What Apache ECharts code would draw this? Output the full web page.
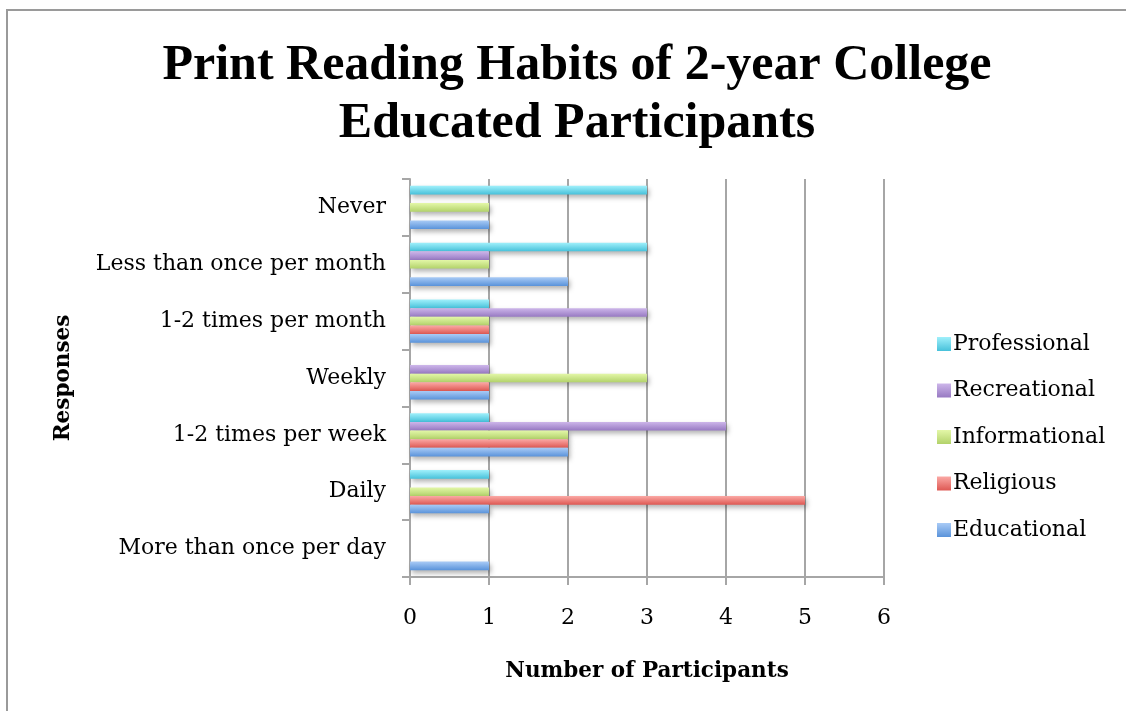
<!DOCTYPE html>
<html><head><meta charset="utf-8">
<script src="https://cdn.jsdelivr.net/npm/echarts@6/dist/echarts.min.js"></script>
<style>html,body{margin:0;padding:0;background:#fff}#c{width:1126px;height:711px}</style>
</head><body><div id="c"></div>
<script>
const categories = ['More than once per day','Daily','1-2 times per week','Weekly','1-2 times per month','Less than once per month','Never'];
const educational   = [1,1,2,1,1,2,1];
const religious     = [0,5,2,1,1,0,0];
const informational = [0,1,2,3,1,1,1];
const recreational  = [0,0,4,1,3,1,0];
const professional  = [0,1,1,0,1,3,3];
const xTicks = [0,1,2,3,4,5,6];

const TFONT = '"Liberation Serif", serif';
const FONT = '"DejaVu Serif", serif';
function grad(top, bottom){
  return {type:'linear',x:0,y:0,x2:0,y2:1,colorStops:[{offset:0,color:top},{offset:1,color:bottom}]};
}
const colors = {
  Educational: grad('#a9cbf6','#5a93da'),
  Religious: grad('#fba9a5','#de5853'),
  Informational: grad('#e3f7a8','#b2d26a'),
  Recreational: grad('#cdb6ea','#9779c2'),
  Professional: grad('#a0f0fb','#47c1da')
};
// first series is drawn at the top of each band
const seriesDefs = [
  ['Professional', professional],
  ['Recreational', recreational],
  ['Informational', informational],
  ['Religious', religious],
  ['Educational', educational]
];
const chart = echarts.init(document.getElementById('c'), null, {renderer:'canvas'});
chart.setOption({
  animation:false,
  backgroundColor:'#fff',
  title:{
    text:'Print Reading Habits of 2-year College\nEducated Participants',
    left:572, top:32, textAlign:'center',
    textStyle:{fontFamily:TFONT, fontWeight:'bold', fontSize:50, lineHeight:58, color:'#000'}
  },
  legend:{
    orient:'vertical', left:932, top:327, itemGap:22.5, itemWidth:14, itemHeight:14,
    data:['Professional','Recreational','Informational','Religious','Educational'],
    textStyle:{fontFamily:FONT, fontSize:22, lineHeight:24, color:'#000', padding:[0,0,0,-3]},
    icon:'rect'
  },
  grid:{left:410, right:242, top:179, bottom:134},
  xAxis:{
    type:'value', min:0, max:6, interval:1,
    name:'Number of Participants', nameLocation:'middle', nameGap:83,
    nameTextStyle:{fontFamily:FONT, fontWeight:'bold', fontSize:21.5, color:'#000'},
    axisLine:{show:true, lineStyle:{color:'#a6a6a6', width:2}},
    axisTick:{show:true, length:8, lineStyle:{color:'#a6a6a6', width:2}},
    axisLabel:{fontFamily:FONT, fontSize:22, color:'#000', margin:30, formatter:(v)=>String(xTicks[v])},
    splitLine:{show:true, lineStyle:{color:'#a6a6a6', width:2}}
  },
  yAxis:{
    type:'category', data:categories,
    name:'Responses', nameLocation:'middle', nameGap:336, nameRotate:90,
    nameTextStyle:{fontFamily:FONT, fontWeight:'bold', fontSize:21.5, color:'#000'},
    axisLine:{show:true, lineStyle:{color:'#a6a6a6', width:2}},
    axisTick:{show:true, length:8, lineStyle:{color:'#a6a6a6', width:2}},
    axisLabel:{fontFamily:FONT, fontSize:22, color:'#000', margin:24, padding:[10,0,0,0]},
    splitLine:{show:false}
  },
  graphic:[{type:'rect', shape:{x:7, y:10, width:1200, height:800}, style:{fill:null, stroke:'#9a9a9a', lineWidth:2}, z:-1}],
  series: seriesDefs.map(([name, vals]) => ({
    name, type:'bar', data:vals, barGap:'0%', barCategoryGap:'24%',
    itemStyle:{color:colors[name], shadowColor:'rgba(0,0,0,0.3)', shadowBlur:5, shadowOffsetX:2, shadowOffsetY:3}
  }))
});
</script></body></html>
